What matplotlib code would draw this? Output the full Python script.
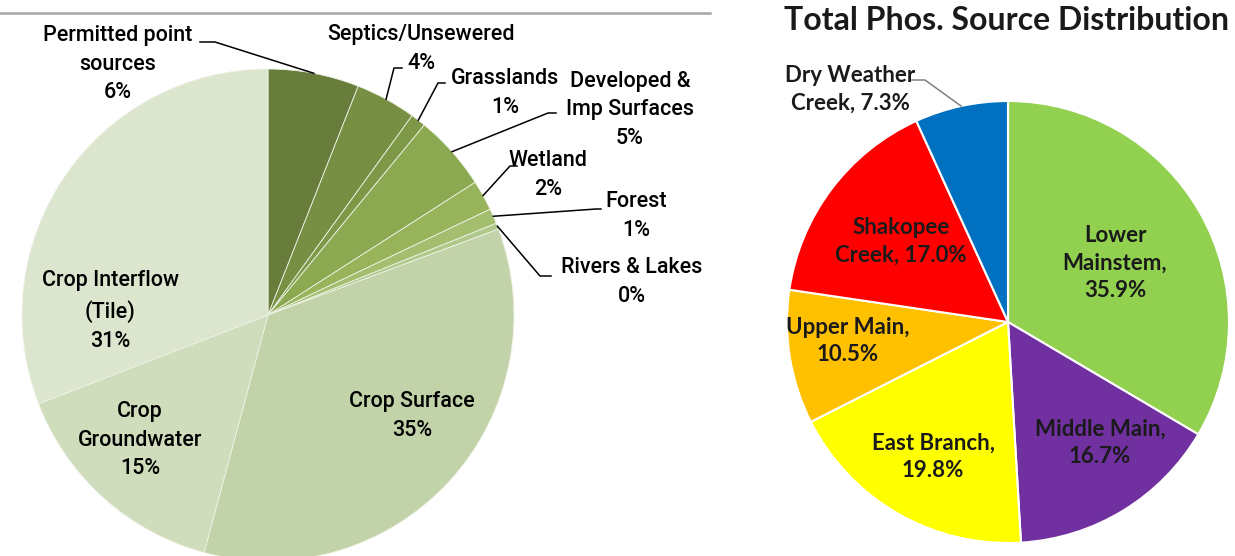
import matplotlib.pyplot as plt
import numpy as np

W, H = 1235, 556

# left pie: land-use sources (share of load)
left_names = ["Permitted point\nsources", "Septics/Unsewered", "Grasslands", "Developed &\nImp Surfaces",
              "Wetland", "Forest", "Rivers & Lakes", "Crop Surface", "Crop\nGroundwater", "Crop Interflow\n(Tile)"]
left_values = [6, 4, 1, 5, 2, 1, 0.4, 35, 15, 31]
left_pct = ["6%", "4%", "1%", "5%", "2%", "1%", "0%", "35%", "15%", "31%"]
left_colors = ["#687D3B", "#768F42", "#7D9948", "#8BA950", "#98B45A", "#A2BE6E", "#AFC98A",
               "#C3D3A9", "#D0DDBC", "#DCE5CD"]

# right pie: subwatershed distribution
right_names = ["Lower\nMainstem,", "Middle Main,", "East Branch,", "Upper Main,", "Shakopee\nCreek,", "Dry Weather\nCreek,"]
right_values = [35.9, 16.7, 19.8, 10.5, 17.0, 7.3]
right_colors = ["#92D050", "#7030A0", "#FFFF00", "#FFC000", "#FF0000", "#0070C0"]

# label layout (pixel positions, top-down): text centre, elbow start, elbow end
left_text = [(118, 64), (421, 49), (505, 93), (630, 110), (548, 175), (636, 216), (632, 282),
             (412, 416), (140, 440), (110, 311)]
left_elbow = [((200, 42), (215, 42)), ((402, 68), (394, 68)), ((445, 83), (438, 83)),
              ((556, 113), (548, 113)), ((517, 166), (510, 166)), ((601, 209), (596, 209)),
              ((551, 276), (540, 276)), None, None, None]
right_text = [(1115, 263), (1100, 443), (933, 457), (848, 341), (901, 241), (850, 89)]
right_elbow = [None, None, None, None, None, ((912, 80), (925, 80))]

fig = plt.figure(figsize=(W / 100, H / 100), dpi=100)

def pie_axes(cx, cy, r):
    return fig.add_axes([(cx - r) / W, (H - cy - r) / H, 2 * r / W, 2 * r / H])

lc = (268, 315, 246)
rc = (1008, 322, 221)

ax1 = pie_axes(*lc)
w1, _ = ax1.pie(left_values, colors=left_colors, startangle=90, counterclock=False, radius=1,
                wedgeprops=dict(edgecolor="#EEF2E6", linewidth=0.6))
ax1.set_xlim(-1, 1)
ax1.set_ylim(-1, 1)

ax2 = pie_axes(*rc)
w2, _ = ax2.pie(right_values, colors=right_colors, startangle=90, counterclock=False, radius=1,
                wedgeprops=dict(edgecolor="white", linewidth=1.5))
ax2.set_xlim(-1, 1)
ax2.set_ylim(-1, 1)

# overlay axes in pixel coordinates for labels and leader lines
ov = fig.add_axes([0, 0, 1, 1])
ov.set_xlim(0, W)
ov.set_ylim(H, 0)
ov.axis("off")

def edge_point(wedge, c):
    cx, cy, r = c
    a = np.deg2rad((wedge.theta1 + wedge.theta2) / 2)
    return cx + r * np.cos(a), cy - r * np.sin(a)

left_font = ["Roboto", "DejaVu Sans"]
for i, wd in enumerate(w1):
    tx, ty = left_text[i]
    ov.text(tx, ty, left_names[i] + "\n" + left_pct[i], ha="center", va="center",
            fontsize=15.5, family=left_font, fontweight="medium", linespacing=1.5, color="black")
    if left_elbow[i] is not None:
        (x0, y0), (x1, y1) = left_elbow[i]
        px, py = edge_point(wd, lc)
        ov.plot([x0, x1, px], [y0, y1, py], color="black", lw=1.1)

for i, wd in enumerate(w2):
    tx, ty = right_text[i]
    sep = "\n" if i < 4 else " "
    ov.text(tx, ty, right_names[i] + sep + f"{right_values[i]:.1f}%",
            ha="center", va="center", fontsize=16, fontweight="bold", family=["Lato", "DejaVu Sans"],
            linespacing=1.4, color="#1A1A1A")
    if right_elbow[i] is not None:
        (x0, y0), (x1, y1) = right_elbow[i]
        px, py = edge_point(wd, rc)
        ov.plot([x0, x1, px], [y0, y1, py], color="#808080", lw=1.1)

ov.text(1006, 21, "Total Phos. Source Distribution", ha="center", va="center", fontsize=23,
        fontweight="bold", family=["Lato", "DejaVu Sans"], color="#1A1A1A")

# grey rule at top of left chart
ov.plot([0, 710], [13, 13], color="#A6A6A6", lw=1.8)

fig.savefig("out.png", dpi=100)
